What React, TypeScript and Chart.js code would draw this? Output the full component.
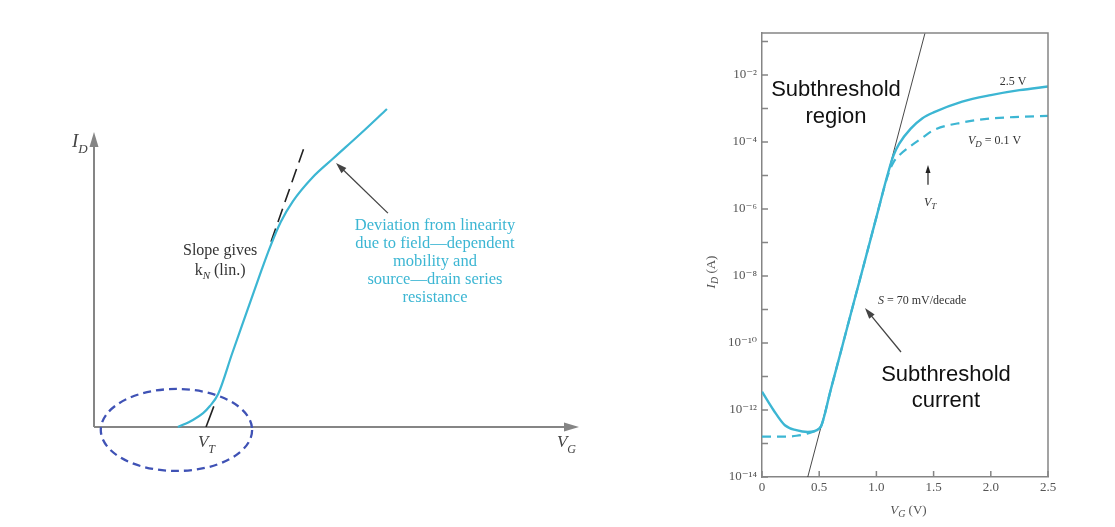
import React, { useEffect, useRef } from 'react';
import { Chart, registerables } from 'chart.js';
Chart.register(...registerables);

// ---------- Left panel (linear schematic, arbitrary units) ----------
const LIN_VG = [1.73, 2.04, 2.25, 2.39, 2.56, 2.85, 3.15, 3.45, 3.63, 3.85, 4.1, 4.5, 4.93, 5.5, 6.04];
const LIN_ID = [0, 0.24, 0.47, 0.71, 1.12, 2.5, 3.9, 5.3, 6.1, 6.95, 7.65, 8.45, 9.1, 9.95, 10.78];
const TAN_SOLID_VG = [2.31, 2.47];
const TAN_SOLID_ID = [0, 0.7];
const TAN_DASH_VG = [3.65, 4.35];
const TAN_DASH_ID = [6.28, 9.56];

// ---------- Right panel (log I_D vs V_G) ----------
const VG = [0, 0.1, 0.2, 0.3, 0.4, 0.5, 0.52, 0.6, 0.7, 0.8, 0.9, 1.0, 1.1, 1.15, 1.2, 1.3, 1.4, 1.5, 1.75, 2.0, 2.25, 2.5];
const ID_VD25 = [3.5e-12, 1.0e-12, 3.5e-13, 2.5e-13, 2.2e-13, 2.8e-13, 3.5e-13, 3.9e-12, 7.6e-11, 1.5e-9, 2.9e-8, 5.7e-7, 1.12e-5, 4.0e-5, 8.9e-5, 2.5e-4, 5.0e-4, 7.6e-4, 1.6e-3, 2.5e-3, 3.5e-3, 4.5e-3];
const ID_VD01 = [1.6e-13, 1.6e-13, 1.6e-13, 1.7e-13, 2.0e-13, 2.8e-13, 3.5e-13, 3.9e-12, 7.6e-11, 1.5e-9, 2.9e-8, 5.7e-7, 1.0e-5, 2.5e-5, 4.0e-5, 7.6e-5, 1.32e-4, 2.24e-4, 3.8e-4, 5.0e-4, 5.6e-4, 6.0e-4];
const SLOPE_VG = [0.4, 1.425];
const SLOPE_ID = [1e-14, 1.78e-1];
const Y_TICKS = [1e-14, 1e-13, 1e-12, 1e-11, 1e-10, 1e-9, 1e-8, 1e-7, 1e-6, 1e-5, 1e-4, 1e-3, 1e-2, 1e-1];
const Y_TICK_LABELS = ['10⁻¹⁴', '', '10⁻¹²', '', '10⁻¹⁰', '', '10⁻⁸', '', '10⁻⁶', '', '10⁻⁴', '', '10⁻²', ''];
const X_TICKS = [0, 0.5, 1.0, 1.5, 2.0, 2.5];
const X_TICK_LABELS = ['0', '0.5', '1.0', '1.5', '2.0', '2.5'];

const CYAN = '#3cb6d3';
const AXIS = '#858585';
const SERIF = "'Liberation Serif', 'DejaVu Serif', serif";
const SANS = "'Liberation Sans', Arial, sans-serif";

type Part = { t: string; f: string; dy?: number };
function rich(ctx: CanvasRenderingContext2D, parts: Part[], x: number, y: number, align: 'left' | 'center' | 'right', color: string) {
  ctx.save();
  ctx.fillStyle = color;
  ctx.textBaseline = 'alphabetic';
  ctx.textAlign = 'left';
  let w = 0;
  for (const p of parts) { ctx.font = p.f; w += ctx.measureText(p.t).width; }
  let cx = align === 'left' ? x : align === 'center' ? x - w / 2 : x - w;
  for (const p of parts) {
    ctx.font = p.f;
    ctx.fillText(p.t, cx, y + (p.dy || 0));
    cx += ctx.measureText(p.t).width;
  }
  ctx.restore();
}

function arrow(ctx: CanvasRenderingContext2D, x1: number, y1: number, x2: number, y2: number, color: string, lw: number, hl: number, hw: number) {
  const a = Math.atan2(y2 - y1, x2 - x1);
  ctx.save();
  ctx.strokeStyle = color;
  ctx.fillStyle = color;
  ctx.lineWidth = lw;
  ctx.beginPath();
  ctx.moveTo(x1, y1);
  ctx.lineTo(x2 - Math.cos(a) * hl * 0.8, y2 - Math.sin(a) * hl * 0.8);
  ctx.stroke();
  ctx.beginPath();
  ctx.moveTo(x2, y2);
  ctx.lineTo(x2 - Math.cos(a) * hl + Math.sin(a) * hw / 2, y2 - Math.sin(a) * hl - Math.cos(a) * hw / 2);
  ctx.lineTo(x2 - Math.cos(a) * hl - Math.sin(a) * hw / 2, y2 - Math.sin(a) * hl + Math.cos(a) * hw / 2);
  ctx.closePath();
  ctx.fill();
  ctx.restore();
}

const toPts = (xs: number[], ys: number[]) => xs.map((x, i) => ({ x, y: ys[i] }));

const leftPlugin = {
  id: 'leftDecor',
  beforeDatasetsDraw(chart: any) {
    const ctx = chart.ctx as CanvasRenderingContext2D;
    const xs = chart.scales.x, ys = chart.scales.y;
    const X = (v: number) => xs.getPixelForValue(v);
    const Y = (v: number) => ys.getPixelForValue(v);
    arrow(ctx, X(0), Y(0), X(0), Y(10), AXIS, 2, 15, 9);
    arrow(ctx, X(0), Y(0), X(10), Y(0), AXIS, 2, 15, 9);
    ctx.save();
    ctx.strokeStyle = '#3f52b5';
    ctx.lineWidth = 2.3;
    ctx.setLineDash([8, 5]);
    ctx.beginPath();
    const cx = X(1.7), cy = Y(-0.1);
    ctx.ellipse(cx, cy, X(1.7 + 1.56) - cx, cy - Y(-0.1 + 1.39), 0, 0, Math.PI * 2);
    ctx.stroke();
    ctx.restore();
  },
  afterDatasetsDraw(chart: any) {
    const ctx = chart.ctx as CanvasRenderingContext2D;
    const xs = chart.scales.x, ys = chart.scales.y;
    const X = (v: number) => xs.getPixelForValue(v);
    const Y = (v: number) => ys.getPixelForValue(v);
    const gray = '#444';
    rich(ctx, [{ t: 'I', f: `italic 19px ${SERIF}` }, { t: 'D', f: `italic 13px ${SERIF}`, dy: 6 }], X(-0.454), Y(9.49), 'left', gray);
    rich(ctx, [{ t: 'V', f: `italic 17px ${SERIF}` }, { t: 'T', f: `italic 12px ${SERIF}`, dy: 6 }], X(2.144), Y(-0.678), 'left', gray);
    rich(ctx, [{ t: 'V', f: `italic 17px ${SERIF}` }, { t: 'G', f: `italic 12px ${SERIF}`, dy: 6 }], X(9.546), Y(-0.678), 'left', gray);
    rich(ctx, [{ t: 'Slope gives', f: `16px ${SERIF}` }], X(2.6), Y(5.83), 'center', '#333');
    rich(ctx, [{ t: 'k', f: `16px ${SERIF}` }, { t: 'N', f: `italic 11px ${SERIF}`, dy: 4 }, { t: ' (lin.)', f: `16px ${SERIF}` }], X(2.6), Y(5.15), 'center', '#333');
    const dev = ['Deviation from linearity', 'due to field—dependent', 'mobility and', 'source—drain series', 'resistance'];
    const devY = [6.68, 6.07, 5.46, 4.85, 4.24];
    dev.forEach((t, i) => rich(ctx, [{ t, f: `16.5px ${SERIF}` }], X(7.03), Y(devY[i]), 'center', CYAN));
    arrow(ctx, X(6.06), Y(7.25), X(4.99), Y(8.95), '#444', 1.3, 11, 7);
  },
};

const rightPlugin = {
  id: 'rightDecor',
  afterDraw(chart: any) {
    const ctx = chart.ctx as CanvasRenderingContext2D;
    const xs = chart.scales.x, ys = chart.scales.y;
    const a = chart.chartArea;
    const X = (v: number) => xs.getPixelForValue(v);
    const L = (lg: number) => ys.getPixelForValue(Math.pow(10, lg));
    ctx.save();
    ctx.strokeStyle = AXIS;
    ctx.lineWidth = 1.5;
    ctx.beginPath();
    ctx.moveTo(a.left, a.top); ctx.lineTo(a.right, a.top); ctx.lineTo(a.right, a.bottom);
    ctx.stroke();
    ctx.beginPath();
    for (const v of Y_TICKS) { const y = ys.getPixelForValue(v); ctx.moveTo(a.left, y); ctx.lineTo(a.left + 6, y); }
    for (const v of X_TICKS) { const x = X(v); ctx.moveTo(x, a.bottom); ctx.lineTo(x, a.bottom - 6); }
    ctx.stroke();
    ctx.restore();

    const txt = '#333';
    ctx.save();
    ctx.translate(a.left - 51, 272);
    ctx.rotate(-Math.PI / 2);
    rich(ctx, [{ t: 'I', f: `italic 13px ${SERIF}` }, { t: 'D', f: `italic 10px ${SERIF}`, dy: 3 }, { t: ' (A)', f: `13px ${SERIF}` }], 0, 4, 'center', '#555');
    ctx.restore();
    rich(ctx, [{ t: 'V', f: `italic 13px ${SERIF}` }, { t: 'G', f: `italic 10px ${SERIF}`, dy: 3 }, { t: ' (V)', f: `13px ${SERIF}` }], X(1.28), a.bottom + 37, 'center', '#555');

    rich(ctx, [{ t: 'Subthreshold', f: `22px ${SANS}` }], X(0.647), L(-2.63), 'center', '#111');
    rich(ctx, [{ t: 'region', f: `22px ${SANS}` }], X(0.647), L(-3.43), 'center', '#111');
    rich(ctx, [{ t: 'Subthreshold', f: `22px ${SANS}` }], X(1.608), L(-11.13), 'center', '#111');
    rich(ctx, [{ t: 'current', f: `22px ${SANS}` }], X(1.608), L(-11.91), 'center', '#111');
    rich(ctx, [{ t: 'S', f: `italic 12px ${SERIF}` }, { t: ' = 70 mV/decade', f: `12px ${SERIF}` }], X(1.014), L(-8.84), 'left', txt);
    arrow(ctx, X(1.215), L(-10.27), X(0.9), L(-8.96), '#444', 1.3, 11, 7);
    rich(ctx, [{ t: '2.5 V', f: `12px ${SERIF}` }], X(2.194), L(-2.3), 'center', txt);
    rich(ctx, [{ t: 'V', f: `italic 12px ${SERIF}` }, { t: 'D', f: `italic 9px ${SERIF}`, dy: 3 }, { t: ' = 0.1 V', f: `12px ${SERIF}` }], X(1.8), L(-4.06), 'left', txt);
    arrow(ctx, X(1.451), L(-5.28), X(1.451), L(-4.69), '#222', 1.2, 8, 5);
    rich(ctx, [{ t: 'V', f: `italic 12px ${SERIF}` }, { t: 'T', f: `italic 9px ${SERIF}`, dy: 3 }], X(1.469), L(-5.91), 'center', txt);
  },
};

export default function App() {
  const lRef = useRef<HTMLCanvasElement>(null);
  const rRef = useRef<HTMLCanvasElement>(null);
  useEffect(() => {
    // Note: Chart.js draws dataset 0 on top, so curves are listed first.
    const left = new Chart(lRef.current!, {
      type: 'scatter',
      data: {
        datasets: [
          { data: toPts(LIN_VG, LIN_ID), showLine: true, borderColor: CYAN, borderWidth: 2.2, pointRadius: 0, cubicInterpolationMode: 'monotone', clip: false },
          { data: toPts(TAN_SOLID_VG, TAN_SOLID_ID), showLine: true, borderColor: '#222', borderWidth: 1.6, pointRadius: 0 },
          { data: toPts(TAN_DASH_VG, TAN_DASH_ID), showLine: true, borderColor: '#222', borderWidth: 1.6, borderDash: [14, 7], pointRadius: 0 },
        ],
      } as any,
      options: {
        animation: false,
        responsive: true,
        maintainAspectRatio: false,
        layout: { padding: { left: 94, right: 61, top: 132, bottom: 100 } },
        scales: {
          x: { type: 'linear', min: 0, max: 10, display: false },
          y: { type: 'linear', min: 0, max: 10, display: false },
        },
        plugins: { legend: { display: false }, tooltip: { enabled: false } },
      } as any,
      plugins: [leftPlugin],
    });

    const right = new Chart(rRef.current!, {
      type: 'scatter',
      data: {
        datasets: [
          { data: toPts(VG, ID_VD25), showLine: true, borderColor: CYAN, borderWidth: 2.4, pointRadius: 0, cubicInterpolationMode: 'monotone' },
          { data: toPts(VG, ID_VD01), showLine: true, borderColor: CYAN, borderWidth: 2.2, borderDash: [9, 6], pointRadius: 0, cubicInterpolationMode: 'monotone' },
          { data: toPts(SLOPE_VG, SLOPE_ID), showLine: true, borderColor: '#333', borderWidth: 0.9, pointRadius: 0 },
        ],
      } as any,
      options: {
        animation: false,
        responsive: true,
        maintainAspectRatio: false,
        layout: { padding: { left: 0, right: 67, top: 33, bottom: 0 } },
        scales: {
          x: {
            type: 'linear', min: 0, max: 2.5,
            afterBuildTicks: (s: any) => { s.ticks = X_TICKS.map((v) => ({ value: v })); },
            afterFit: (s: any) => { s.height = 50; },
            ticks: { callback: (_v: any, i: number) => X_TICK_LABELS[i], font: { family: SERIF, size: 13 }, color: '#555', padding: 3, maxRotation: 0, autoSkip: false },
            grid: { display: false, drawTicks: false },
            border: { display: true, color: AXIS, width: 1.5 },
          },
          y: {
            type: 'logarithmic', min: 1e-14, max: 1.78e-1,
            afterBuildTicks: (s: any) => { s.ticks = Y_TICKS.map((v) => ({ value: v })); },
            afterFit: (s: any) => { s.width = 122; },
            ticks: { callback: (_v: any, i: number) => Y_TICK_LABELS[i], font: { family: SERIF, size: 13 }, color: '#555', padding: 5, autoSkip: false },
            grid: { display: false, drawTicks: false },
            border: { display: true, color: AXIS, width: 1.5 },
          },
        },
        plugins: { legend: { display: false }, tooltip: { enabled: false } },
      } as any,
      plugins: [rightPlugin],
    });
    return () => { left.destroy(); right.destroy(); };
  }, []);

  return (
    <div style={{ position: 'fixed', left: 0, top: 0, width: 1115, height: 527, background: '#fff' }}>
      <div style={{ position: 'absolute', left: 0, top: 0, width: 640, height: 527 }}>
        <canvas ref={lRef} />
      </div>
      <div style={{ position: 'absolute', left: 640, top: 0, width: 475, height: 527 }}>
        <canvas ref={rRef} />
      </div>
    </div>
  );
}
